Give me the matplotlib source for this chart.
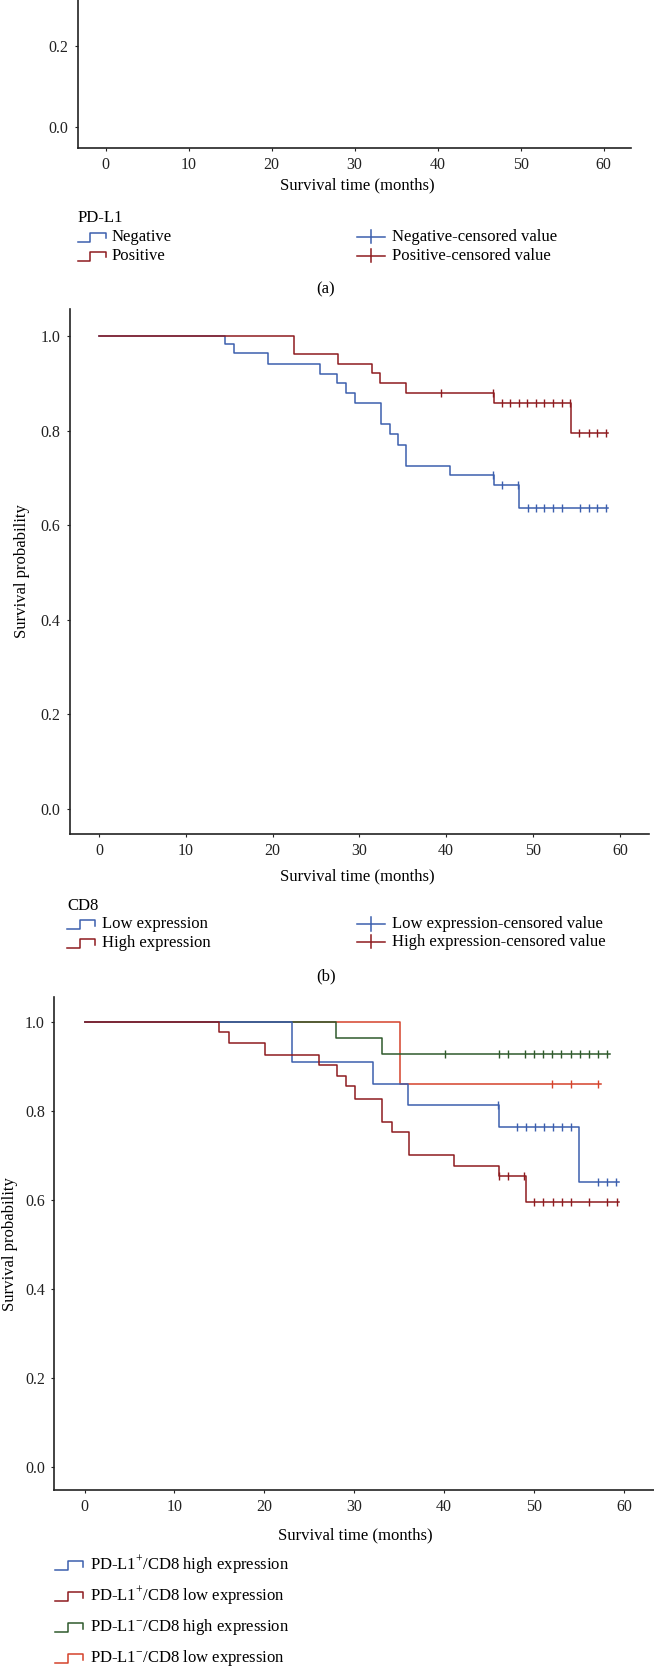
import matplotlib
matplotlib.use("Agg")
import matplotlib.pyplot as plt
from matplotlib.lines import Line2D
import numpy as np

W, H = 654, 1667

plt.rcParams['font.family'] = ['Liberation Serif', 'DejaVu Serif']
plt.rcParams['mathtext.fontset'] = 'custom'
plt.rcParams['mathtext.rm'] = 'Liberation Serif'
plt.rcParams['font.size'] = 12

BLUE = '#3c5fae'
RED = '#8e1b1f'
GREEN = '#2f5a2c'
ORANGE = '#d4432b'

x_ticks = [0, 10, 20, 30, 40, 50, 60]
y_ticks = [0.0, 0.2, 0.4, 0.6, 0.8, 1.0]

# panel (b): CD8
cd8_low_times = [14.5, 15.6, 19.5, 25.5, 27.4, 28.5, 29.5, 32.5, 33.5, 34.4, 35.4, 40.4, 45.5, 48.4]
cd8_low_surv = [0.984, 0.963, 0.941, 0.920, 0.900, 0.879, 0.858, 0.813, 0.792, 0.770, 0.725, 0.706, 0.685, 0.636]
cd8_low_cens = [45.4, 46.4, 48.3, 49.4, 50.3, 51.3, 52.3, 53.3, 55.4, 56.4, 57.4, 58.4]
cd8_low_end = 58.6

cd8_high_times = [22.5, 27.5, 31.4, 32.4, 35.4, 45.5, 54.4]
cd8_high_surv = [0.962, 0.941, 0.921, 0.901, 0.879, 0.858, 0.795]
cd8_high_cens = [39.4, 45.4, 46.4, 47.4, 48.4, 49.3, 50.3, 51.3, 52.3, 53.3, 54.3, 55.3, 56.4, 57.4, 58.4]
cd8_high_end = 58.6

# panel (c): PD-L1 / CD8 combined
pos_high_times = [23.1, 32.1, 36.0, 46.1, 55.0]
pos_high_surv = [0.909, 0.861, 0.813, 0.764, 0.640]
pos_high_cens = [46.0, 48.1, 49.1, 50.1, 51.1, 52.1, 53.1, 54.1, 57.1, 58.1, 59.1]
pos_high_end = 59.4

pos_low_times = [15.0, 16.1, 20.1, 26.1, 28.1, 29.1, 30.1, 33.1, 34.2, 36.1, 41.1, 46.1, 49.1]
pos_low_surv = [0.977, 0.952, 0.926, 0.903, 0.879, 0.855, 0.827, 0.776, 0.753, 0.702, 0.676, 0.653, 0.596]
pos_low_cens = [46.1, 47.1, 48.9, 50.0, 51.0, 52.1, 53.1, 54.1, 56.1, 58.1, 59.2]
pos_low_end = 59.5

neg_high_times = [28.0, 33.1]
neg_high_surv = [0.964, 0.928]
neg_high_cens = [40.1, 46.1, 47.1, 49.0, 50.0, 51.0, 52.0, 53.0, 54.1, 55.1, 56.1, 57.1, 58.1]
neg_high_end = 58.4

neg_low_times = [35.1]
neg_low_surv = [0.861]
neg_low_cens = [52.0, 54.1, 57.1]
neg_low_end = 57.4


def box(l, t, r, b):
    return [l / W, 1 - b / H, (r - l) / W, (b - t) / H]


def fx(x):
    return x / W


def fy(y):
    return 1 - y / H


def setup_axes(ax, yt=y_ticks):
    ax.set_xlim(-3.4, 63.3)
    ax.set_ylim(-0.052, 1.056)
    ax.set_xticks(x_ticks)
    ax.set_yticks(yt)
    ax.set_yticklabels(['%.1f' % v for v in yt])
    for s in ['top', 'right']:
        ax.spines[s].set_visible(False)
    for s in ['left', 'bottom']:
        ax.spines[s].set_linewidth(1.2)
        ax.spines[s].set_color('#222222')
    ax.tick_params(direction='out', length=2.5, width=0.8, pad=4, labelsize=11.5, colors='#222222')


def km(ax, times, surv, cens, end, color):
    xs = [0] + times + [end]
    ys = [1.0] + surv + [surv[-1]]
    ax.step(xs, ys, where='post', color=color, lw=1.1)
    cens = np.array(cens)
    idx = np.searchsorted(np.array(times), cens, side='right')
    cy = np.array([1.0] + surv)[idx]
    ax.plot(cens, cy, ls='none', marker='|', ms=5.5, mew=1.0, color=color)


def step_glyph(x0, yc, color, w=28):
    xs = [x0, x0 + w * 0.45, x0 + w * 0.45, x0 + w, x0 + w]
    ys = [yc + 5, yc + 5, yc - 4, yc - 4, yc + 1.5]
    fig.add_artist(Line2D([fx(v) for v in xs], [fy(v) for v in ys], color=color, lw=1.1))


def cens_glyph(x0, yc, color, w=28):
    fig.add_artist(Line2D([fx(x0), fx(x0 + w)], [fy(yc), fy(yc)], color=color, lw=1.1))
    fig.add_artist(Line2D([fx(x0 + w / 2)] * 2, [fy(yc - 6.5), fy(yc + 6.5)], color=color, lw=1.1))


fig = plt.figure(figsize=(W / 100, H / 100), dpi=100)

# ---- panel (a) (cut off at top of figure)
axa = fig.add_axes(box(77.5, -299.4, 631, 147.7))
setup_axes(axa, [0.0, 0.2])
fig.text(fx(357), fy(185), 'Survival time (months)', ha='center', va='center')
fig.text(fx(77.5), fy(218), 'PD-L1', ha='left', va='center')
step_glyph(77.5, 237, BLUE)
fig.text(fx(112), fy(237), 'Negative', ha='left', va='center')
step_glyph(77.5, 256, RED)
fig.text(fx(112), fy(256), 'Positive', ha='left', va='center')
cens_glyph(357, 237, BLUE)
fig.text(fx(392), fy(237), 'Negative-censored value', ha='left', va='center')
cens_glyph(357, 256, RED)
fig.text(fx(392), fy(256), 'Positive-censored value', ha='left', va='center')
fig.text(fx(326), fy(289), '(a)', ha='center', va='center')

# ---- panel (b)
axb = fig.add_axes(box(69.5, 309.5, 648.5, 833.6))
setup_axes(axb)
km(axb, cd8_low_times, cd8_low_surv, cd8_low_cens, cd8_low_end, BLUE)
km(axb, cd8_high_times, cd8_high_surv, cd8_high_cens, cd8_high_end, RED)
fig.text(fx(22), fy(571), 'Survival probability', rotation=90, ha='center', va='center')
fig.text(fx(357), fy(876), 'Survival time (months)', ha='center', va='center')
fig.text(fx(67), fy(906), 'CD8', ha='left', va='center')
step_glyph(67, 924, BLUE)
fig.text(fx(102), fy(924), 'Low expression', ha='left', va='center')
step_glyph(67, 943, RED)
fig.text(fx(102), fy(943), 'High expression', ha='left', va='center')
cens_glyph(357, 924, BLUE)
fig.text(fx(392), fy(924), 'Low expression-censored value', ha='left', va='center')
cens_glyph(357, 942, RED)
fig.text(fx(392), fy(942), 'High expression-censored value', ha='left', va='center')
fig.text(fx(326), fy(976), '(b)', ha='center', va='center')

# ---- panel (c)
axc = fig.add_axes(box(54, 997, 653.6, 1490))
setup_axes(axc)
km(axc, neg_low_times, neg_low_surv, neg_low_cens, neg_low_end, ORANGE)
km(axc, neg_high_times, neg_high_surv, neg_high_cens, neg_high_end, GREEN)
km(axc, pos_high_times, pos_high_surv, pos_high_cens, pos_high_end, BLUE)
km(axc, pos_low_times, pos_low_surv, pos_low_cens, pos_low_end, RED)
fig.text(fx(10), fy(1244), 'Survival probability', rotation=90, ha='center', va='center')
fig.text(fx(355), fy(1535), 'Survival time (months)', ha='center', va='center')

labels_c = [r'PD-L1$^{+}$/CD8 high expression', r'PD-L1$^{+}$/CD8 low expression',
            r'PD-L1$^{-}$/CD8 high expression', r'PD-L1$^{-}$/CD8 low expression']
colors_c = [BLUE, RED, GREEN, ORANGE]
for i, (lab, col) in enumerate(zip(labels_c, colors_c)):
    yy = 1565 + i * 31
    step_glyph(55, yy, col)
    fig.text(fx(90), fy(yy), lab, ha='left', va='center')

fig.savefig('out.png', dpi=100)
